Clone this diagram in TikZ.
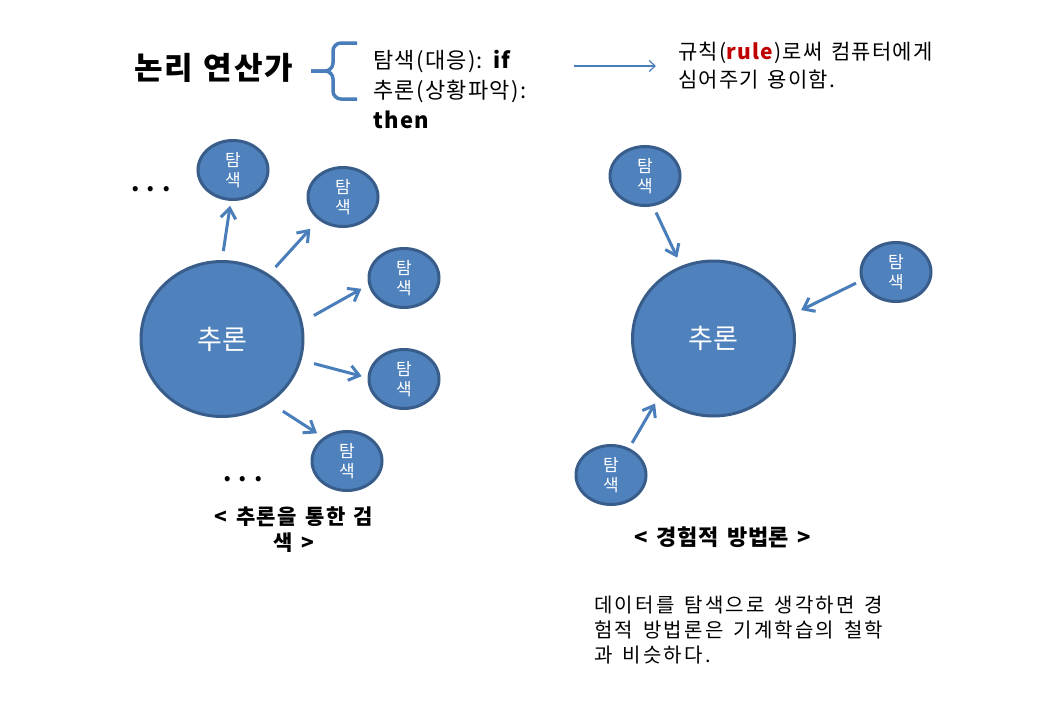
\documentclass[tikz,border=0pt]{standalone}
\usepackage{fontspec}
\setmainfont{Noto Sans CJK KR}
\usepackage{xcolor}
\usetikzlibrary{arrows.meta,positioning,shapes.geometric}
\definecolor{nodefill}{HTML}{4F81BD}
\definecolor{nodeline}{HTML}{385D8A}
\definecolor{arrowblue}{HTML}{4A7EBB}
\definecolor{rulered}{HTML}{C00000}
\newcommand{\fs}[2]{\fontsize{#1}{#2}\selectfont}
\newcommand{\spaced}[2]{\addfontfeatures{LetterSpace=#1}\spaceskip=#2em\relax}

\begin{document}
\begin{tikzpicture}[
x=1pt, y=-1pt,
search/.style={ellipse, draw=nodeline, fill=nodefill, line width=3pt, minimum width=70pt, minimum height=59pt, inner sep=0pt, text=white, align=center, font=\fs{17}{20}},
infer/.style={ellipse, draw=nodeline, fill=nodefill, line width=3pt, minimum width=162pt, minimum height=155pt, inner sep=0pt, text=white, font=\fs{27}{32}},
arr/.style={-{Straight Barb[length=10pt,width=15pt]}, line width=3pt, draw=arrowblue},
label/.style={inner sep=0pt, align=left}
]
\useasboundingbox[fill=white] (0,0) rectangle (1063,704);

% header
\node[label, anchor=west, font=\fs{31}{36}\bfseries\spaced{5}{0.36}] (title) at (134,68) {논리 연산가};
\draw[arrowblue, line width=3.5pt, rounded corners=8pt] (357,43) -| (333,71) -- (311,71);
\draw[arrowblue, line width=3.5pt, rounded corners=8pt] (311,71) -- (333,71) |- (357,99);
\node[label, anchor=west, font=\fs{22}{30}\spaced{6}{0.3}] (ifthen) at (373,90) {탐색(대응): \textbf{if}\\추론(상황파악):\\\textbf{then}};
\node[label, anchor=west, font=\fs{21}{28}\spaced{6}{0.4}] (rule) at (678,66) {규칙(\textcolor{rulered}{\textbf{rule}})로써 컴퓨터에게\\심어주기 용이함.};
\draw[arrowblue, line width=1.2pt, -{Straight Barb[length=6pt,width=11pt]}, shorten <=48pt, shorten >=22pt] (rule.west -| ifthen.east) -- (rule.west);

% inference -> search
\node[infer] (infer) at (222,339) {추론};
\foreach \n/\p in {s1/{233,170}, s2/{343,197}, s3/{404,278}, s4/{404,379}, s5/{347,461}}
  \node[search] (\n) at (\p) {탐\\색};
\foreach \a/\n/\b/\s/\e in {90/s1/266/9/5, 54/s2/223/9.5/12, 12/s3/191/13/8, 345/s4/178/13/6, 307/s5/135/15/7.5}
  \draw[arr, shorten <=\s pt, shorten >=\e pt] (infer.\a) -- (\n.\b);
\node[anchor=base, inner sep=0pt, font=\fs{24}{28}\bfseries] (dotsA) at (151,191) {. . .};
\node[anchor=base, inner sep=0pt, font=\fs{24}{28}\bfseries] (dotsB) at (243,481) {. . .};
\node[inner sep=0pt, align=center, font=\fs{21}{26}\bfseries\spaced{7}{0.4}] (capL) at (294,530) {< 추론을 통한 검\\색 >};

% search -> inference
\node[infer] (infer2) at (713.5,338.5) {추론};
\foreach \n/\p in {ra/{645,176}, rb/{896,272}, rc/{611,475}}
  \node[search] (\n) at (\p) {탐\\색};
\foreach \n/\a/\b/\s/\e in {ra/285/114/7/9, rb/194/17/5.5/10, rc/56/227/6/7}
  \draw[arr, shorten <=\s pt, shorten >=\e pt] (\n.\a) -- (infer2.\b);
\node[inner sep=0pt, font=\fs{22}{26}\bfseries\spaced{2}{0.4}] (capR) at (723,537) {< 경험적 방법론 >};

\node[label, anchor=west, font=\fs{20}{25}\spaced{11}{0.5}] (note) at (594,630) {데이터를 탐색으로 생각하면 경\\험적 방법론은 기계학습의 철학\\과 비슷하다.};
\end{tikzpicture}
\end{document}
